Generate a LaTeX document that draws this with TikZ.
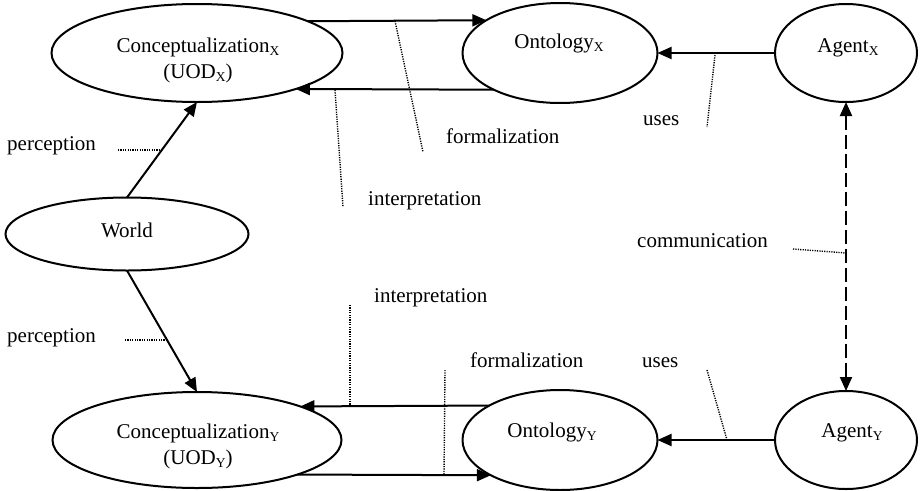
\documentclass[tikz,border=0pt]{standalone}
\usepackage{fontspec}
\setmainfont{Liberation Serif}
\usetikzlibrary{arrows.meta,shapes.geometric}
\newcommand\sbx[1]{\raisebox{-0.15em}{\fontsize{13.5}{13.5}\selectfont #1}}
\begin{document}
\begin{tikzpicture}[x=1pt,y=-1pt,
  every node/.style={font=\fontsize{21}{26}\selectfont},
  oval/.style={draw, ellipse, line width=2pt, inner sep=0pt, outer sep=0pt},
  txt/.style={inner sep=0pt, align=center},
  lbl/.style={inner sep=0pt, anchor=base west},
  arr/.style={line width=2pt, -{Triangle[length=14pt,width=12pt]}},
  lead/.style={line width=1.4pt, dash pattern=on 1.2pt off 1.2pt},
  comm/.style={line width=2pt, dash pattern=on 14pt off 5pt,
     {Triangle[length=14pt,width=12pt]}-{Triangle[length=14pt,width=12pt]}}
]
\useasboundingbox (0,0) rectangle (920,490);

% ellipses
\node[oval, minimum width=291pt, minimum height=98pt]  (cx) at (197,53) {};
\node[oval, minimum width=195pt, minimum height=100pt] (ox) at (560,53) {};
\node[oval, minimum width=142pt, minimum height=98pt]  (ax) at (846,53) {};
\node[oval, minimum width=243pt, minimum height=73pt]  (w)  at (127,234) {};
\node[oval, minimum width=289pt, minimum height=96pt]  (cy) at (197,440) {};
\node[oval, minimum width=195pt, minimum height=100pt] (oy) at (560,440) {};
\node[oval, minimum width=142pt, minimum height=98pt]  (ay) at (846,440) {};

% texts inside
\node[txt] (cxt) at (198,60) {Conceptualization\sbx{X}\\(UOD\sbx{X})};
\node[txt, anchor=base] (oxt) at (559,48) {Ontology\sbx{X}};
\node[txt, anchor=base] (axt) at (848,52) {Agent\sbx{X}};
\node[txt, anchor=base] (wt)  at (127,237) {World};
\node[txt] (cyt) at (198,446) {Conceptualization\sbx{Y}\\(UOD\sbx{Y})};
\node[txt, anchor=base] (oyt) at (552,437) {Ontology\sbx{Y}};
\node[txt, anchor=base] (ayt) at (852,437) {Agent\sbx{Y}};

% connectors
\draw[arr] (cx.16.19) -- (ox.156.87);
\draw[arr] (ox.-151.98) -- (cx.-20.04);
\draw[arr] (oy.154.57) -- (cy.18.43);
\draw[arr] (cy.-19.49) -- (oy.-153.3);
\draw[arr] (ax) -- (ox);
\draw[arr] (ay) -- (oy);
\draw[arr] (w.north) -- (cx.south);
\draw[arr] (w.south) -- (cy.north);
\draw[comm] (ax.south) -- (ay.north);

% labels
\node[lbl] (pl1) at (7,150) {perception};
\node[lbl] (pl2) at (7,342) {perception};
\node[lbl] (fl1) at (446,143) {formalization};
\node[lbl] (il1) at (368,205) {interpretation};
\node[lbl] (ul1) at (643,125) {uses};
\node[lbl] (cl)  at (637,247) {communication};
\node[lbl] (il2) at (374,302) {interpretation};
\node[lbl] (fl2) at (470,367) {formalization};
\node[lbl] (ul2) at (642,367) {uses};

% leader lines
\coordinate (a1) at (118,150); \coordinate (b1) at (163,150);
\coordinate (a2) at (125,340); \coordinate (b2) at (166,340);
\coordinate (a3) at (395,21);  \coordinate (b3) at (423,152);
\coordinate (a4) at (335,90);  \coordinate (b4) at (343,207);
\coordinate (a5) at (715,55);  \coordinate (b5) at (707,127);
\coordinate (a6) at (793,249); \coordinate (b6) at (846,253);
\coordinate (a7) at (350,305); \coordinate (b7) at (350,406);
\coordinate (a8) at (445,370); \coordinate (b8) at (444,475);
\coordinate (a9) at (707,370); \coordinate (b9) at (727,440);
\foreach \i in {1,...,9} {\draw[lead] (a\i) -- (b\i);}
\end{tikzpicture}
\end{document}
